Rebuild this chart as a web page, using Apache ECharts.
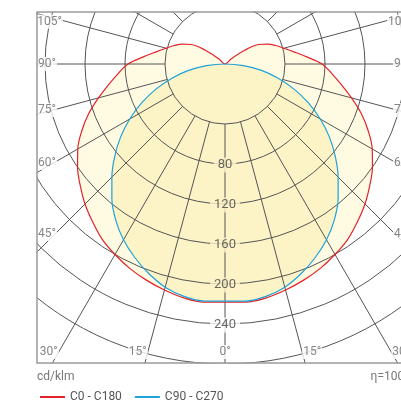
<!DOCTYPE html>
<html><head><meta charset="utf-8">
<script src="https://cdn.jsdelivr.net/npm/echarts@6/dist/echarts.min.js"></script>
<style>html,body{margin:0;padding:0;background:#fff}#c{width:401px;height:403px}</style>
</head><body><div id="c"></div>
<script>
// gamma angles (deg) of the photometric curves
const gammaDeg = [0,5,10,15,20,25,30,35,40,45,50,55,60,65,70,75,80,85,90,95,100,105,110,115,120,125,130,135,140,145,150,155,160,165,170,175,180];
// C0 - C180 plane (cd/klm, read on the ring labels)
const c0c180 = [218,219,217.5,214,210,205.5,200,194,186,178,169,160,150,138,125,111,98,87,77,62,50,41,34,27,19,4,-12,-20,-20,-20,-20,-20,-20,-20,-20,-20,-20];
// C90 - C270 plane
const c90c270 = [217,218,216,211,203,193.5,183,170.5,156,140,124,107.5,90,72,53.5,35,17,-1.5,-20,-20,-20,-20,-20,-20,-20,-20,-20,-20,-20,-20,-20,-20,-20,-20,-20,-20,-20];
const seriesNames = ['C0 - C180','C90 - C270'];
// ring tick labels
const ringValues = [80,120,160,200,240];
const ringLabels = ['80','120','160','200','240'];
// angle tick labels
const angleTicks = [0,15,30,45,60,75,90,105];
const angleTickLabels = ['0°','15°','30°','45°','60°','75°','90°','105°'];
const unitLabel = 'cd/klm';
const effLabel = 'η=100%';

const RED = '#e3232b', BLUE = '#1ea2d8';
const FILL_RED = '#fffbe2', FILL_BLUE = '#fcf3c7';
const GRID = '#555';
const FONT = 'Roboto';

function loop(vals){
  const right = gammaDeg.map((g,i)=>[vals[i], g]);
  const left = gammaDeg.map((g,i)=>[vals[i], 360-g]).reverse();
  return right.concat(left);
}
const rad = d => d*Math.PI/180;
// polar0 maps value v to pixel radius v+20
const pxToVal = px => px - 20;

const angleLabelData = [];
angleTicks.forEach((g,i)=>{
  const txt = angleTickLabels[i];
  let rpx, dy = 0;
  if (g <= 30) {
    rpx = g === 0 ? 288 : 288 / Math.cos(rad(g));
  } else {
    const D = 186 - 6*txt.length;
    rpx = D / Math.sin(rad(g));
    dy = (g === 45 || g === 60) ? 2 : (g === 90 ? 0 : 1);
  }
  const v = pxToVal(rpx);
  const base = {fontSize:12, fontFamily:FONT, color:'#666', backgroundColor:'#fff', padding:[1,1], distance:0, offset:[0,dy]};
  if (g === 0) {
    angleLabelData.push({value:[v, 0], label:Object.assign({show:true, formatter:txt, position:'inside'}, base)});
  } else {
    angleLabelData.push({value:[v, g], label:Object.assign({show:true, formatter:txt, position:'right'}, base)});
    angleLabelData.push({value:[v, 360-g], label:Object.assign({show:true, formatter:txt, position:'left'}, base)});
  }
});

const ringLabelData = ringValues.map((v,i)=>({
  value:[v, 0],
  label:{show:true, formatter:ringLabels[i], position:'inside', fontSize:13, fontFamily:FONT, color:'#444',
    backgroundColor: (v < c90c270[0] ? FILL_BLUE : '#fff'), padding:[1,4], offset:[0,1]}
}));

const ringColors = ['#555','#555','#555','#555','#555','#555','#555','rgba(0,0,0,0)','rgba(0,0,0,0)'];
const SMOOTH = 0.35;

const chart = echarts.init(document.getElementById('c'), null, {renderer:'canvas'});
chart.setOption({
  animation:false,
  backgroundColor:'#fff',
  polar:[
    {center:[225,64], radius:[60,380]},
    {center:[225,64], radius:[0,300]}
  ],
  angleAxis:[
    {polarIndex:0, type:'value', min:0, max:360, interval:15, startAngle:270, clockwise:false, z:3,
     axisLine:{show:false}, axisTick:{show:false}, axisLabel:{show:false},
     splitLine:{show:true, lineStyle:{color:GRID, width:1}}},
    {polarIndex:1, type:'value', min:0, max:360, startAngle:270, clockwise:false, show:false}
  ],
  radiusAxis:[
    {polarIndex:0, type:'value', min:40, max:360, interval:40, z:3,
     axisLine:{show:false}, axisTick:{show:false}, axisLabel:{show:false},
     splitLine:{show:true, lineStyle:{color:ringColors, width:1}}},
    {polarIndex:1, type:'value', min:-20, max:280, show:false}
  ],
  legend:{
    data:seriesNames, left:40, top:391, padding:0, icon:'rect', itemWidth:25, itemHeight:2, itemGap:13,
    textStyle:{fontSize:12, fontFamily:FONT, color:'#555'}, z:60
  },
  series:[
    {name:'fill0', type:'line', coordinateSystem:'polar', polarIndex:1, data:loop(c0c180), symbol:'none', clip:false, silent:true, smooth:SMOOTH,
     lineStyle:{width:0, opacity:0}, areaStyle:{color:FILL_RED, opacity:1, origin:'start'}, z:1},
    {name:'fill1', type:'line', coordinateSystem:'polar', polarIndex:1, data:loop(c90c270), symbol:'none', clip:false, silent:true, smooth:SMOOTH,
     lineStyle:{width:0, opacity:0}, areaStyle:{color:FILL_BLUE, opacity:1, origin:'start'}, z:1},
    {name:seriesNames[0], type:'line', coordinateSystem:'polar', polarIndex:1, data:loop(c0c180), symbol:'none', clip:false, smooth:SMOOTH,
     color:RED, lineStyle:{color:RED, width:1.2}, z:4},
    {name:seriesNames[1], type:'line', coordinateSystem:'polar', polarIndex:1, data:loop(c90c270), symbol:'none', clip:false, smooth:SMOOTH,
     color:BLUE, lineStyle:{color:BLUE, width:1.2}, z:4},
    {name:'angleLabels', type:'scatter', coordinateSystem:'polar', polarIndex:0, data:angleLabelData, symbolSize:0, clip:false, silent:true, z:5},
    {name:'ringLabels', type:'scatter', coordinateSystem:'polar', polarIndex:0, data:ringLabelData, symbolSize:0, clip:false, silent:true, z:5}
  ],
  graphic:[
    {type:'rect', silent:true, z:50, shape:{x:0,y:0,width:36.5,height:403}, style:{fill:'#fff'}},
    {type:'rect', silent:true, z:50, shape:{x:0,y:0,width:401,height:11.5}, style:{fill:'#fff'}},
    {type:'rect', silent:true, z:50, shape:{x:0,y:363.5,width:401,height:40}, style:{fill:'#fff'}},
    {type:'rect', silent:true, z:51, shape:{x:37,y:12,width:376,height:351}, style:{fill:'none', stroke:'#9a9a9a', lineWidth:1.5}},
    {type:'text', silent:true, z:52, x:37, y:377, style:{text:unitLabel, font:'12px Roboto', fill:'#777', align:'left', verticalAlign:'middle', textAlign:'left', textVerticalAlign:'middle'}},
    {type:'text', silent:true, z:52, x:413, y:377, style:{text:effLabel, font:'12px Roboto', fill:'#777', align:'right', verticalAlign:'middle', textAlign:'right', textVerticalAlign:'middle'}}
  ]
});
</script></body></html>
